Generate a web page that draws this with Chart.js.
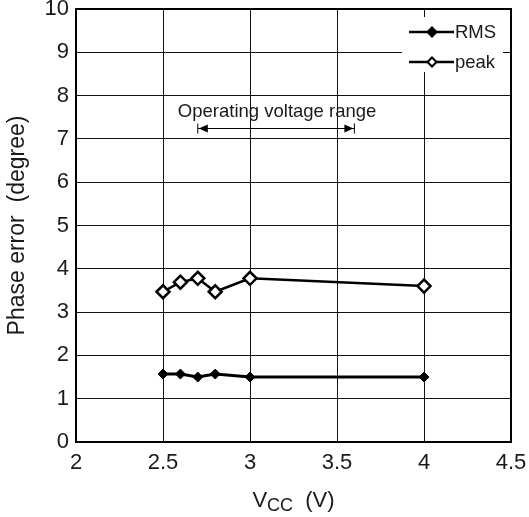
<!DOCTYPE html>
<html>
<head>
<meta charset="utf-8">
<script src="https://cdn.jsdelivr.net/npm/chart.js@4/dist/chart.umd.min.js"></script>
<style>
  html, body { margin: 0; padding: 0; background: #fff; }
  #wrap { width: 529px; height: 517px; position: relative; }
</style>
</head>
<body>
<div id="wrap"><canvas id="c"></canvas></div>
<script>
// Supply voltage (V) at each measurement
const vccRms = [2.5, 2.6, 2.7, 2.8, 3.0, 4.0];
const vccPeak = [2.5, 2.6, 2.7, 2.8, 3.0, 4.0];
// Phase error (degree)
const rmsValues = [1.57, 1.57, 1.5, 1.57, 1.5, 1.5];
const peakValues = [3.47, 3.69, 3.78, 3.47, 3.78, 3.6];
// Axis ticks
const xTickValues = [2, 2.5, 3, 3.5, 4, 4.5];
const xTickLabels = ['2', '2.5', '3', '3.5', '4', '4.5'];
const yTickLabels = ['0', '1', '2', '3', '4', '5', '6', '7', '8', '9', '10'];
// Operating range marker
const rangeStart = 2.7;
const rangeEnd = 3.6;
const rangeLevel = 7.25;
const rangeText = 'Operating voltage range';
const seriesNames = ['RMS', 'peak'];

const FONT = '"Liberation Sans", Arial, sans-serif';
const INK = '#1a1a1a';

const toPoints = (xs, ys) => xs.map((x, i) => ({ x: x, y: ys[i] }));

// Frame, range arrow, inset legend and the subscripted x title
const decorations = {
  id: 'decorations',
  afterDraw(chart) {
    const { ctx, chartArea: a, scales } = chart;
    const xs = scales.x, ys = scales.y;
    ctx.save();

    // plot frame
    ctx.strokeStyle = '#000';
    ctx.lineWidth = 2;
    ctx.strokeRect(a.left, a.top, a.right - a.left, a.bottom - a.top);

    // range arrow
    const x1 = xs.getPixelForValue(rangeStart);
    const x2 = xs.getPixelForValue(rangeEnd);
    const yy = Math.round(ys.getPixelForValue(rangeLevel)) + 0.5;
    ctx.strokeStyle = '#000';
    ctx.fillStyle = '#000';
    ctx.lineWidth = 1;
    ctx.beginPath();
    ctx.moveTo(x1, yy); ctx.lineTo(x2, yy);
    ctx.moveTo(x1, yy - 5); ctx.lineTo(x1, yy + 5);
    ctx.moveTo(x2, yy - 5); ctx.lineTo(x2, yy + 5);
    ctx.stroke();
    ctx.beginPath();
    ctx.moveTo(x1 + 1, yy); ctx.lineTo(x1 + 10, yy - 4); ctx.lineTo(x1 + 10, yy + 4); ctx.closePath();
    ctx.moveTo(x2 - 1, yy); ctx.lineTo(x2 - 10, yy - 4); ctx.lineTo(x2 - 10, yy + 4); ctx.closePath();
    ctx.fill();

    ctx.fillStyle = INK;
    ctx.font = '18.5px ' + FONT;
    ctx.textAlign = 'center';
    ctx.textBaseline = 'alphabetic';
    ctx.fillText(rangeText, (x1 + x2) / 2 + 1, yy - 12);

    // inset legend
    const bx = a.right - 109, by = a.top + 8;
    ctx.fillStyle = '#fff';
    ctx.fillRect(bx, by, 101, 55);
    const rows = [
      { name: seriesNames[0], y: by + 15, fill: '#000' },
      { name: seriesNames[1], y: by + 45, fill: '#fff' }
    ];
    rows.forEach(r => {
      ctx.strokeStyle = '#000';
      ctx.lineWidth = 2.5;
      ctx.beginPath();
      ctx.moveTo(bx + 7, r.y); ctx.lineTo(bx + 52, r.y);
      ctx.stroke();
      const mx = bx + 30, s = 4.5;
      ctx.lineWidth = 2;
      ctx.beginPath();
      ctx.moveTo(mx, r.y - s); ctx.lineTo(mx + s, r.y); ctx.lineTo(mx, r.y + s); ctx.lineTo(mx - s, r.y); ctx.closePath();
      ctx.fillStyle = r.fill;
      ctx.fill();
      ctx.stroke();
      ctx.fillStyle = INK;
      ctx.font = '18.5px ' + FONT;
      ctx.textAlign = 'left';
      ctx.textBaseline = 'middle';
      ctx.fillText(r.name, bx + 53, r.y + 1);
    });

    // x axis title with subscript
    const cx = (a.left + a.right) / 2;
    const base = 507;
    const big = '22px ' + FONT, small = '18px ' + FONT;
    ctx.font = big;
    const wV = ctx.measureText('V').width;
    const wTail = ctx.measureText('  (V)').width;
    ctx.font = small;
    const wCC = ctx.measureText('CC').width;
    let x = cx - (wV + wCC + wTail) / 2;
    ctx.fillStyle = INK;
    ctx.textAlign = 'left';
    ctx.textBaseline = 'alphabetic';
    ctx.font = big; ctx.fillText('V', x, base); x += wV;
    ctx.font = small; ctx.fillText('CC', x, base + 4); x += wCC;
    ctx.font = big; ctx.fillText('  (V)', x, base);

    ctx.restore();
  }
};

new Chart(document.getElementById('c'), {
  type: 'scatter',
  data: {
    datasets: [
      {
        label: seriesNames[0],
        data: toPoints(vccRms, rmsValues),
        showLine: true,
        borderColor: '#000',
        borderWidth: 3,
        backgroundColor: '#000',
        pointStyle: 'rectRot',
        pointRadius: 5,
        pointBorderWidth: 1,
        pointBorderColor: '#000',
        pointBackgroundColor: '#000'
      },
      {
        label: seriesNames[1],
        data: toPoints(vccPeak, peakValues),
        showLine: true,
        borderColor: '#000',
        borderWidth: 2.5,
        backgroundColor: '#fff',
        pointStyle: 'rectRot',
        pointRadius: 6.5,
        pointBorderWidth: 2.5,
        pointBorderColor: '#000',
        pointBackgroundColor: '#fff'
      }
    ]
  },
  options: {
    responsive: true,
    maintainAspectRatio: false,
    animation: false,
    devicePixelRatio: 1,
    layout: { padding: { top: 7, right: 18, bottom: 0, left: 0 } },
    plugins: {
      legend: { display: false },
      tooltip: { enabled: false }
    },
    scales: {
      x: {
        type: 'linear',
        min: 2,
        max: 4.5,
        afterBuildTicks(scale) {
          scale.ticks = xTickValues.map(v => ({ value: v }));
        },
        afterFit(scale) {
          scale.height = 75;
          scale.paddingLeft = 0;
          scale.paddingRight = 0;
        },
        ticks: {
          color: INK,
          font: { family: FONT, size: 22 },
          padding: 8,
          maxRotation: 0,
          callback: (v, i) => xTickLabels[i]
        },
        grid: { color: '#111', lineWidth: 1, drawTicks: false },
        border: { display: false }
      },
      y: {
        min: 0,
        max: 10,
        afterFit(scale) {
          scale.width = 76;
          scale.paddingTop = 0;
          scale.paddingBottom = 0;
        },
        ticks: {
          stepSize: 1,
          color: INK,
          font: { family: FONT, size: 22 },
          padding: 7,
          callback: (v, i) => yTickLabels[i]
        },
        grid: { color: '#111', lineWidth: 1, drawTicks: false },
        border: { display: false },
        title: {
          display: true,
          text: 'Phase error  (degree)',
          color: INK,
          font: { family: FONT, size: 23 },
          padding: { top: 4, bottom: 0 }
        }
      }
    }
  },
  plugins: [decorations]
});
</script>
</body>
</html>
